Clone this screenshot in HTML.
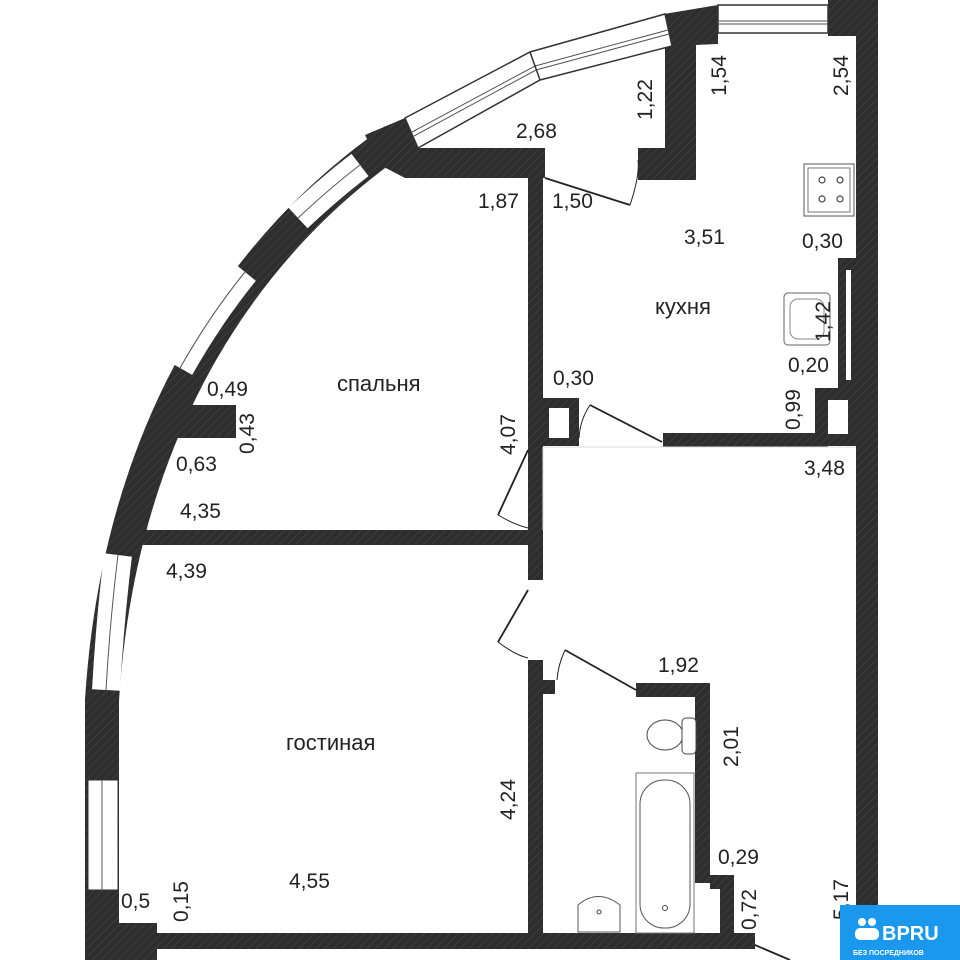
<!DOCTYPE html>
<html><head><meta charset="utf-8"><style>
html,body{margin:0;padding:0;background:#fff;}
svg{display:block;}
text{font-family:"Liberation Sans",sans-serif;font-size:21px;fill:#222;}
.r{font-size:22px;}
</style></head><body>
<svg width="960" height="960" viewBox="0 0 960 960" xmlns="http://www.w3.org/2000/svg">
<defs>
<pattern id="h" width="6" height="6" patternUnits="userSpaceOnUse" patternTransform="rotate(45)">
<rect width="6" height="6" fill="#2e2e2e"/><line x1="0" y1="0" x2="0" y2="6" stroke="#4a4a4a" stroke-width="1"/>
</pattern>
</defs>
<g fill="url(#h)" stroke="none">
<path d="M395,140 C250,240 120,420 102,700 L102,950" fill="none" stroke="url(#h)" stroke-width="34"/>
<rect x="85" y="890" width="33" height="70"/>
<rect x="85" y="923" width="72" height="37"/>
<rect x="85" y="933" width="670" height="16"/>
<rect x="856" y="0" width="22" height="935"/>
<rect x="828" y="0" width="50" height="36"/>
<polygon points="664,14 718,5 718,44 672,46"/>
<rect x="665" y="40" width="31" height="140"/>
<rect x="638" y="148" width="58" height="32"/>
<polygon points="365,135 405,118 418,148 545,148 545,178 405,178 380,165"/>
<rect x="528" y="178" width="15" height="352"/>
<rect x="543" y="398" width="36" height="48"/>
<rect x="663" y="433" width="165" height="14"/>
<rect x="815" y="388" width="43" height="58"/>
<rect x="838" y="258" width="20" height="130"/>
<rect x="140" y="530" width="403" height="15"/>
<rect x="528" y="545" width="15" height="35"/>
<rect x="528" y="660" width="15" height="275"/>
<rect x="543" y="680" width="12" height="14"/>
<rect x="178" y="405" width="58" height="33"/>
<rect x="636" y="683" width="74" height="14"/>
<rect x="695" y="683" width="15" height="200"/>
<rect x="710" y="875" width="24" height="14"/>
<rect x="720" y="875" width="14" height="60"/>
</g>
<rect x="549" y="408" width="20" height="30" fill="#fff"/>
<rect x="828" y="400" width="20" height="34" fill="#fff"/>
<rect x="846" y="270" width="5" height="110" fill="#fff"/>
<rect x="711" y="890" width="8" height="43" fill="#fff"/>
<polygon points="405,118 530,52 665,14 672,46 540,80 418,148" fill="#fff" stroke="#333" stroke-width="1.5"/>
<polyline points="412,132 535,66 668,30" fill="none" stroke="#555" stroke-width="1"/>
<polyline points="414,136 536,70 669,34" fill="none" stroke="#555" stroke-width="1"/>
<line x1="530" y1="52" x2="540" y2="80" stroke="#333" stroke-width="1.5"/>
<rect x="718" y="5" width="110" height="28" fill="#fff" stroke="#333" stroke-width="1.5"/>
<line x1="718" y1="21" x2="828" y2="21" stroke="#555"/>
<line x1="718" y1="24" x2="828" y2="24" stroke="#555"/>
<g fill="none">
<path d="M360,165 Q330,188 298,218" stroke="#fff" stroke-width="28"/>
<path d="M360,165 Q330,188 298,218" stroke="#555" stroke-width="1"/>
<path d="M245,272 Q210,315 180,368" stroke="#fff" stroke-width="28"/>
<path d="M245,272 Q210,315 180,368" stroke="#555" stroke-width="1"/>
<path d="M118,555 Q110,620 106,690" stroke="#fff" stroke-width="28"/>
<path d="M118,555 Q110,620 106,690" stroke="#555" stroke-width="1"/>
<rect x="88" y="780" width="30" height="110" fill="#fff" stroke="#333" stroke-width="1"/>
<line x1="102" y1="780" x2="102" y2="890" stroke="#555"/>
</g>
<g stroke="#222" stroke-width="1.8" fill="none">
<line x1="545" y1="178" x2="630" y2="205"/>
<path d="M630,205 Q640,175 638,160" stroke-width="1"/>
<line x1="590" y1="405" x2="662" y2="442"/>
<path d="M590,405 Q580,420 579,438" stroke-width="1"/>
<line x1="528" y1="450" x2="498" y2="515"/>
<path d="M498,515 Q515,525 528,528" stroke-width="1"/>
<line x1="528" y1="590" x2="498" y2="642"/>
<path d="M498,642 Q515,655 528,658" stroke-width="1"/>
<line x1="565" y1="650" x2="636" y2="690"/>
<path d="M565,650 Q558,665 557,680" stroke-width="1"/>
<line x1="755" y1="945" x2="790" y2="960"/>
</g>
<line x1="543" y1="447" x2="856" y2="447" stroke="#ddd"/>
<line x1="543" y1="447" x2="543" y2="530" stroke="#ddd"/>
<rect x="804" y="164" width="50" height="52" fill="#fff" stroke="#555"/>
<rect x="808" y="168" width="42" height="44" fill="none" stroke="#777"/>
<g stroke="#444" fill="none" stroke-width="1.2">
<circle cx="822" cy="180" r="3"/><circle cx="840" cy="180" r="3"/><circle cx="822" cy="199" r="3"/><circle cx="840" cy="199" r="3"/>
</g>
<rect x="784" y="293" width="46" height="52" rx="4" fill="#fff" stroke="#666"/>
<rect x="790" y="299" width="34" height="40" rx="8" fill="none" stroke="#888"/>
<ellipse cx="665" cy="735" rx="18" ry="15" fill="#fff" stroke="#444"/>
<rect x="682" y="718" width="14" height="36" rx="4" fill="#fff" stroke="#444"/>
<rect x="636" y="773" width="58" height="160" fill="#fff" stroke="#777"/>
<rect x="640" y="780" width="50" height="148" rx="24" fill="none" stroke="#555"/>
<circle cx="665" cy="908" r="2.5" fill="none" stroke="#444"/>
<path d="M578,932 L578,905 Q598,888 620,905 L620,932 Z" fill="#fff" stroke="#555"/>
<circle cx="599" cy="912" r="2" fill="none" stroke="#444"/>
<text x="516" y="138">2,68</text>
<text x="478" y="208">1,87</text>
<text x="552" y="208">1,50</text>
<text x="684" y="244">3,51</text>
<text x="802" y="248">0,30</text>
<text x="655" y="314" class="r">кухня</text>
<text x="788" y="372">0,20</text>
<text x="553" y="385">0,30</text>
<text x="337" y="391" class="r">спальня</text>
<text x="207" y="396">0,49</text>
<text x="176" y="471">0,63</text>
<text x="804" y="475">3,48</text>
<text x="180" y="518">4,35</text>
<text x="166" y="578">4,39</text>
<text x="658" y="672">1,92</text>
<text x="286" y="750" class="r">гостиная</text>
<text x="718" y="864">0,29</text>
<text x="289" y="888">4,55</text>
<text x="121" y="908">0,5</text>
<g>
<text transform="translate(652,120) rotate(-90)">1,22</text>
<text transform="translate(726,96) rotate(-90)">1,54</text>
<text transform="translate(848,96) rotate(-90)">2,54</text>
<text transform="translate(830,342) rotate(-90)">1,42</text>
<text transform="translate(800,430) rotate(-90)">0,99</text>
<text transform="translate(515,455) rotate(-90)">4,07</text>
<text transform="translate(254,454) rotate(-90)">0,43</text>
<text transform="translate(515,820) rotate(-90)">4,24</text>
<text transform="translate(738,767) rotate(-90)">2,01</text>
<text transform="translate(756,930) rotate(-90)">0,72</text>
<text transform="translate(848,920) rotate(-90)">5,17</text>
<text transform="translate(188,922) rotate(-90)">0,15</text>
</g>
<rect x="840" y="905" width="120" height="55" fill="#1a98ee"/>
<g fill="#fff">
<circle cx="862" cy="922" r="4"/><circle cx="872" cy="922" r="4"/>
<rect x="855" y="928" width="24" height="12" rx="5"/>
</g>
<text x="882" y="940" style="fill:#fff;font-size:20px;font-weight:bold">BPRU</text>
<text x="853" y="955" style="fill:#fff;font-size:7px;font-weight:bold">БЕЗ ПОСРЕДНИКОВ</text>
</svg>
</body></html>
